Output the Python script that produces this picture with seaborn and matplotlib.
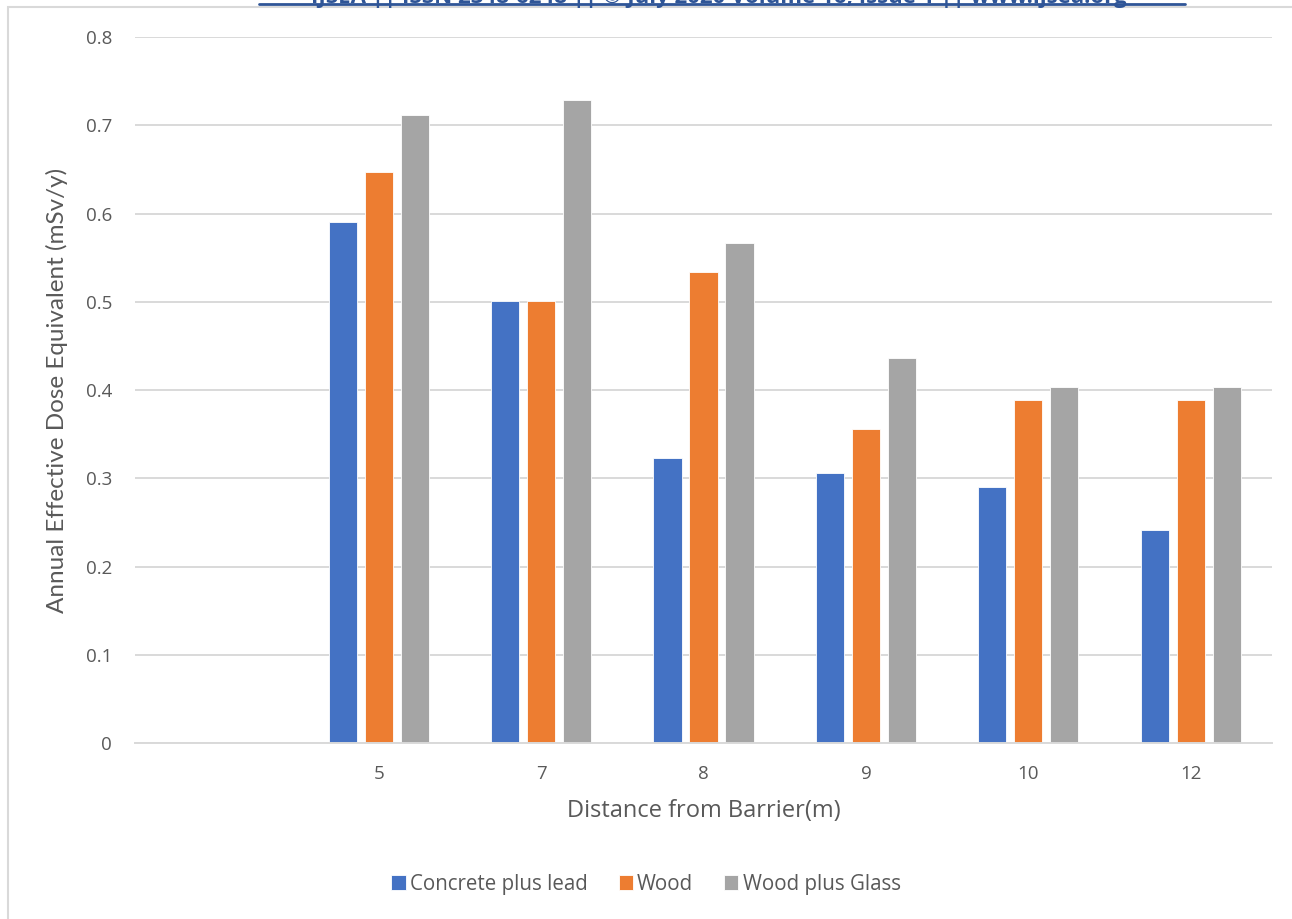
import pandas as pd
import matplotlib.pyplot as plt
import seaborn as sns
from matplotlib.patches import Rectangle
from matplotlib.lines import Line2D

# dados
distancias = ["", "5", "7", "8", "9", "10", "12"]
distancias_com_dados = ["5", "7", "8", "9", "10", "12"]
concreto_chumbo = [0.590, 0.501, 0.323, 0.306, 0.290, 0.241]
madeira = [0.647, 0.501, 0.534, 0.356, 0.389, 0.389]
madeira_vidro = [0.712, 0.729, 0.567, 0.436, 0.404, 0.404]
series = ["Concrete plus lead", "Wood", "Wood plus Glass"]
cores = ["#4472C4", "#ED7D31", "#A5A5A5"]

df = pd.DataFrame({
    "Distancia": distancias_com_dados * 3,
    "Dose": concreto_chumbo + madeira + madeira_vidro,
    "Material": [s for s in series for _ in distancias_com_dados],
})

sns.set_theme(style="white")
plt.rcParams["font.family"] = ["Open Sans", "DejaVu Sans"]
cinza = "#595959"

fig = plt.figure(figsize=(12.92, 9.19), dpi=100)
ax = fig.add_axes([0.1045, 0.1915, 0.88, 0.768])

sns.barplot(data=df, x="Distancia", y="Dose", hue="Material", order=distancias,
            hue_order=series, palette=cores, saturation=1, width=0.665, gap=0.22,
            edgecolor="white", linewidth=0.6, ax=ax, legend=True)

ax.set_ylim(0, 0.8)
ax.set_yticks([0, 0.1, 0.2, 0.3, 0.4, 0.5, 0.6, 0.7, 0.8])
ax.set_yticklabels(["0", "0.1", "0.2", "0.3", "0.4", "0.5", "0.6", "0.7", "0.8"])
ax.yaxis.grid(True, color="#D9D9D9", linewidth=1.4)
ax.set_axisbelow(True)
for lado in ["top", "right", "left"]:
    ax.spines[lado].set_visible(False)
ax.spines["bottom"].set_color("#D9D9D9")
ax.spines["bottom"].set_linewidth(1.4)
ax.tick_params(axis="y", length=0, labelsize=13.5, labelcolor=cinza, pad=16.5)
ax.tick_params(axis="x", length=0, labelsize=13.5, labelcolor=cinza, pad=16)

ax.set_xlabel("Distance from Barrier(m)", fontsize=17, color=cinza, labelpad=11)
ax.set_ylabel("Annual Effective Dose Equivalent (mSv/y)", fontsize=17.5, color=cinza,
              labelpad=13, family=["Lato", "DejaVu Sans"])

ax.legend(loc="center", bbox_to_anchor=(0.5, 0.038), bbox_transform=fig.transFigure,
          ncol=3, frameon=False, fontsize=14.8, handlelength=0.7, handleheight=0.7,
          columnspacing=1.5, handletextpad=0.2, labelcolor=cinza)

# borda da área do gráfico
fig.patches.append(Rectangle((8 / 1292, -0.01), 1.02, 1 - 7 / 919 + 0.01,
                             transform=fig.transFigure, fill=False,
                             edgecolor="#D9D9D9", linewidth=1.5))

# cabeçalho da página, cortado no topo como no original
fig.text(0.556, 1 - 3 / 919, "IJSEA || ISSN 2348-6248 || © July 2020 Volume 16, Issue 1 || www.ijsea.org",
         ha="center", va="baseline", fontsize=16, fontweight="bold", color="#2F5597")
fig.lines.append(Line2D([259 / 1292, 1185 / 1292], [1 - 4 / 919, 1 - 4 / 919],
                        transform=fig.transFigure, color="#2F5597", linewidth=2))

fig.savefig("out.png", dpi=100)
